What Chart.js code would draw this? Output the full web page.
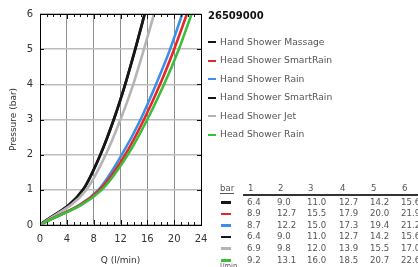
<!DOCTYPE html>
<html><head><meta charset="utf-8">
<script src="https://cdn.jsdelivr.net/npm/chart.js@4.4.0/dist/chart.umd.min.js"></script>
<style>
html,body{margin:0;padding:0;width:418px;height:267px;overflow:hidden;background:#fff;font-family:"DejaVu Sans",sans-serif;}
#wrap{position:absolute;left:0;top:0;width:418px;height:267px;}
#side{position:absolute;left:0;top:0;width:418px;height:267px;pointer-events:none;}
.t{position:absolute;white-space:nowrap;color:#555;}
.title{font-weight:bold;font-size:10px;color:#111;}
.leg{font-size:9.2px;line-height:12px;}
.dash{position:absolute;height:2px;}
.cell{font-size:8.6px;line-height:11px;}
</style></head>
<body>
<div id="wrap"><canvas id="c" width="418" height="267"></canvas></div>
<div id="side"></div>
<script>
// ---- data ----
const productCode = "26509000";
const pressures = [1, 2, 3, 4, 5, 6];            // bar
const seriesNames = ["Hand Shower Massage", "Head Shower SmartRain", "Hand Shower Rain",
                     "Hand Shower SmartRain", "Head Shower Jet", "Head Shower Rain"];
const handShowerMassage   = [6.4, 9.0, 11.0, 12.7, 14.2, 15.6];
const headShowerSmartRain = [8.9, 12.7, 15.5, 17.9, 20.0, 21.9];
const handShowerRain      = [8.7, 12.2, 15.0, 17.3, 19.4, 21.2];
const handShowerSmartRain = [6.4, 9.0, 11.0, 12.7, 14.2, 15.6];
const headShowerJet       = [6.9, 9.8, 12.0, 13.9, 15.5, 17.0];
const headShowerRain      = [9.2, 13.1, 16.0, 18.5, 20.7, 22.6];
const xTicks = [0, 4, 8, 12, 16, 20, 24];
const yTicks = [0, 1, 2, 3, 4, 5, 6];

const flows = [handShowerMassage, headShowerSmartRain, handShowerRain, handShowerSmartRain, headShowerJet, headShowerRain];
const colors = ["#161616", "#e5262a", "#3b8fe8", "#161616", "#b4b4b4", "#3cbd3c"];
const drawOrder = [5, 1, 2, 4, 0, 3];

const datasets = drawOrder.map(i => ({
  label: seriesNames[i],
  data: [{x: 0, y: 0}].concat(flows[i].map((q, k) => ({x: q, y: pressures[k]}))),
  borderColor: colors[i],
  borderWidth: 2.6,
  pointRadius: 0,
  fill: false,
  cubicInterpolationMode: 'monotone'
}));

const frame = {
  id: 'frame',
  afterDatasetsDraw(chart) {
    const {ctx, chartArea: a, scales: {x, y}} = chart;
    ctx.save();
    ctx.strokeStyle = '#111';
    ctx.lineWidth = 1;
    ctx.beginPath();
    for (let v = 0; v <= 24; v++) {
      const px = Math.round(x.getPixelForValue(v)) + 0.5;
      const len = (v % 4 === 0) ? 5 : 3;
      ctx.moveTo(px, a.bottom); ctx.lineTo(px, a.bottom - len);
      ctx.moveTo(px, a.top); ctx.lineTo(px, a.top + len);
    }
    for (const v of yTicks) {
      const py = Math.round(y.getPixelForValue(v)) + 0.5;
      ctx.moveTo(a.left, py); ctx.lineTo(a.left + 4, py);
      ctx.moveTo(a.right, py); ctx.lineTo(a.right - 4, py);
    }
    ctx.stroke();
    ctx.strokeStyle = '#000';
    ctx.strokeRect(Math.round(a.left) + 0.5, Math.round(a.top) + 0.5,
                   Math.round(a.right - a.left), Math.round(a.bottom - a.top));
    ctx.restore();
  }
};

new Chart(document.getElementById('c'), {
  type: 'line',
  data: {datasets},
  options: {
    responsive: false, animation: false, devicePixelRatio: 1,
    layout: {padding: {left: 0, right: 217, top: 14, bottom: 0}},
    plugins: {legend: {display: false}, tooltip: {enabled: false}},
    scales: {
      x: {
        type: 'linear', min: 0, max: 24,
        afterFit(s) { s.height = 42; },
        afterBuildTicks(s) { s.ticks = xTicks.map(v => ({value: v})); },
        grid: {color: '#8e8e8e', lineWidth: 1, drawTicks: false},
        border: {display: false},
        ticks: {padding: 8, color: '#333', font: {family: 'DejaVu Sans', size: 10}, maxRotation: 0},
        title: {display: true, text: 'Q (l/min)', color: '#333', font: {family: 'DejaVu Sans', size: 9}, padding: {top: 0, bottom: 1}}
      },
      y: {
        type: 'linear', min: 0, max: 6,
        afterFit(s) { s.width = 40; },
        afterBuildTicks(s) { s.ticks = yTicks.map(v => ({value: v})); },
        grid: {color: '#bcbcbc', lineWidth: 1.5, drawTicks: false},
        border: {display: false},
        ticks: {padding: 7, color: '#333', font: {family: 'DejaVu Sans', size: 10}},
        title: {display: true, text: 'Pressure (bar)', color: '#333', font: {family: 'DejaVu Sans', size: 9}, padding: {top: 8.5, bottom: 0}}
      }
    }
  },
  plugins: [frame]
});

// ---- legend and table (HTML text) ----
const side = document.getElementById('side');
function add(cls, text, left, top, extra) {
  const d = document.createElement('div');
  d.className = 't ' + cls;
  d.textContent = text;
  d.style.left = left + 'px'; d.style.top = top + 'px';
  if (extra) Object.assign(d.style, extra);
  side.appendChild(d);
  return d;
}
function dash(left, top, w, color, h) {
  const d = document.createElement('div');
  d.className = 'dash';
  d.style.left = left + 'px'; d.style.top = top + 'px';
  d.style.width = w + 'px'; d.style.height = (h || 2) + 'px';
  d.style.background = color;
  side.appendChild(d);
}
add('title', productCode, 208, 10);
const legY = [42, 60.5, 79, 97.5, 116, 134.5];
seriesNames.forEach((n, i) => {
  dash(208, legY[i] - 1, 8, colors[i]);
  add('leg', n, 220, legY[i] - 6.5);
});

const colX = [247, 277, 307, 339, 370, 401];
add('cell', 'bar', 220, 183, {borderBottom: '1px solid #555', lineHeight: '10px'});
pressures.forEach((p, k) => add('cell', String(p), colX[k] + 1, 183, {lineHeight: '10px'}));
dash(243, 193.5, 175, '#333', 2);
const rowY = [202, 213.6, 225.2, 236.8, 248.4, 260];
flows.forEach((arr, i) => {
  dash(221, rowY[i] - 1, 10, colors[i], 2.5);
  arr.forEach((q, k) => add('cell', q.toFixed(1), colX[k], rowY[i] - 5.5));
});
add('cell', 'l/min', 220, 262, {fontSize: '7px', lineHeight: '8px'});
</script>
</body></html>
